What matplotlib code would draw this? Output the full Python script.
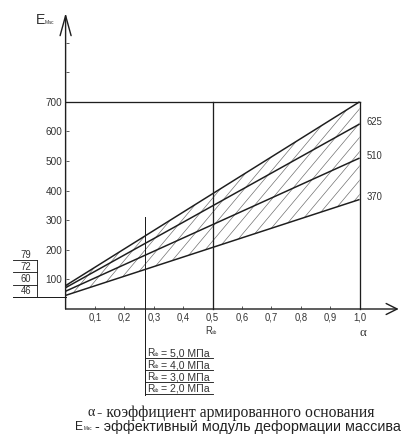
import matplotlib
matplotlib.use("Agg")
import matplotlib.pyplot as plt
from matplotlib.patches import FancyArrowPatch
import numpy as np

# ---------------- data ----------------
alpha = [0.0, 1.0]
E_start = [79, 72, 60, 46]          # E at alpha = 0
E_end = [700, 625, 510, 370]        # E at alpha = 1
end_labels = ["", "625", "510", "370"]
start_labels = ["79", "72", "60", "46"]
rsb_labels = ["5,0", "4,0", "3,0", "2,0"]
x_ticks = [0.1, 0.2, 0.3, 0.4, 0.5, 0.6, 0.7, 0.8, 0.9, 1.0]
x_ticklabels = ["0,1", "0,2", "0,3", "0,4", "0,5", "0,6", "0,7", "0,8", "0,9", "1,0"]
y_ticks = [100, 200, 300, 400, 500, 600, 700, 800, 900]
y_ticklabels = ["100", "200", "300", "400", "500", "600", "700", "", ""]
alpha_rsb = 0.27
E_rsb_top = 310
E_frame = 700
alpha_mid = 0.5

# ---------------- layout ----------------
W, H, DPI = 419, 447, 72
X0, Y0 = 65.6, 309.0     # pixel position of origin (from top-left)
SX, SY = 294.0, 0.296    # px per unit

fig = plt.figure(figsize=(W / DPI, H / DPI), dpi=DPI)
ax = fig.add_axes([0, 0, 1, 1])
ax.set_xlim(-X0 / SX, (W - X0) / SX)
ax.set_ylim(-(H - Y0) / SY, Y0 / SY)
ax.patch.set_visible(False)

SANS = "Liberation Sans"
SERIF = "Liberation Serif"
INK = "#1e1e1e"
TXT = "#333333"


def fx(px):
    return px / W


def fy(py):
    return 1 - py / H


# spines / ticks
for s in ["top", "right", "left", "bottom"]:
    ax.spines[s].set_visible(False)
ax.spines["left"].set_position(("data", 0))
ax.spines["bottom"].set_position(("data", 0))
ax.set_xticks(x_ticks)
ax.set_xticklabels(x_ticklabels, fontsize=9.5, family=SANS, color=TXT)
ax.set_yticks(y_ticks)
ax.set_yticklabels(y_ticklabels, fontsize=10, family=SANS, color=TXT)
ax.tick_params(axis="both", direction="in", length=3, width=0.8, color=TXT)
ax.tick_params(axis="x", pad=4)
ax.tick_params(axis="y", pad=3)

# axis arrows
ax.add_patch(FancyArrowPatch((0, 0), (0, 1000), arrowstyle="->,head_length=20,head_width=5.5",
                             mutation_scale=1, lw=1.4, color=INK, shrinkA=0, shrinkB=0))
ax.add_patch(FancyArrowPatch((0, 0), (1.133, 0), arrowstyle="->,head_length=11,head_width=5.5",
                             mutation_scale=1, lw=1.4, color=INK, shrinkA=0, shrinkB=0))

# hatched band (clipped diagonal hatch lines)
a = np.array(alpha)
lower = np.array([E_start[-1], E_end[-1]])
upper = np.array([E_start[0], E_end[0]])
band = ax.fill_between(a, lower, upper, facecolor="none", linewidth=0)
hatch_px = 12.0                       # horizontal spacing of hatch lines in pixels
hatch_slope_px = np.tan(np.radians(50))
k = hatch_slope_px * SX / SY          # data slope of hatch lines
for a0 in np.arange(-1.0, 1.0, hatch_px / SX):
    hl, = ax.plot([a0, a0 + 1.2], [0, k * 1.2], color="#6a6a6a", lw=0.65)
    hl.set_clip_path(band.get_paths()[0], ax.transData)

# main lines
for s, e in zip(E_start, E_end):
    ax.plot(alpha, [s, e], color=INK, lw=1.5, solid_capstyle="butt")

# frame lines
ax.plot([0, 1], [E_frame, E_frame], color=INK, lw=1.3)
ax.plot([1, 1], [0, E_frame], color=INK, lw=1.3)
ax.plot([alpha_mid, alpha_mid], [0, E_frame], color=INK, lw=1.3)

# end labels
for lab, e in zip(end_labels, E_end):
    if lab:
        ax.annotate(lab, (1.0, e), xytext=(7, 2), textcoords="offset points",
                    ha="left", va="center", fontsize=9.5, family=SANS, color=TXT)

# Rsb vertical and table
ax.plot([alpha_rsb, alpha_rsb], [E_rsb_top, -290], color=INK, lw=1.0)
row_y = [358, 370, 382, 393.5]
for lab, py in zip(rsb_labels, row_y):
    fig.add_artist(plt.Line2D([fx(145), fx(213)], [fy(py), fy(py)], color=INK, lw=0.9))
    fig.text(fx(147), fy(py - 2), "R", ha="left", va="baseline", fontsize=10, family=SANS, color=TXT)
    fig.text(fx(153.5), fy(py - 1.5), "sb", ha="left", va="baseline", fontsize=5, family=SANS, color=TXT)
    fig.text(fx(161), fy(py - 2), "= " + lab + " МПа", ha="left", va="baseline",
             fontsize=10.5, family=SANS, color=TXT)

# left table of start values
tab_y = [260, 272.3, 284.7]
for py in tab_y:
    fig.add_artist(plt.Line2D([fx(13), fx(37)], [fy(py), fy(py)], color=INK, lw=0.9))
fig.add_artist(plt.Line2D([fx(13), fx(X0)], [fy(296.5), fy(296.5)], color=INK, lw=1.0))
fig.add_artist(plt.Line2D([fx(37), fx(37)], [fy(260), fy(296.5)], color=INK, lw=0.9))
for lab, py in zip(start_labels, [255, 267, 279, 291.5]):
    fig.text(fx(26), fy(py), lab, ha="center", va="center", fontsize=9.5, family=SANS, color=TXT)

# axis labels
fig.text(fx(36), fy(20), "E", ha="left", va="center", fontsize=14, family=SANS, color=TXT)
fig.text(fx(45), fy(23), "Мас", ha="left", va="center", fontsize=5, family=SANS, color=TXT)
fig.text(fx(205), fy(331), "R", ha="left", va="center", fontsize=9.5, family=SANS, color=TXT)
fig.text(fx(212), fy(333), "sb", ha="left", va="center", fontsize=5, family=SANS, color=TXT)
fig.text(fx(360), fy(333), "α", ha="left", va="center", fontsize=13, family=SERIF, color=TXT)

# legend text at bottom
fig.text(fx(88), fy(413), "α", ha="left", va="center", fontsize=14, family=SERIF, color="#222222")
fig.text(fx(97), fy(413), "- коэффициент армированного основания", ha="left", va="center",
         fontsize=15.8, family=SERIF, color="#222222")
fig.text(fx(75), fy(427), "E", ha="left", va="center", fontsize=12, family=SANS, color="#222222")
fig.text(fx(84), fy(429), "Мас", ha="left", va="center", fontsize=4.5, family=SANS, color="#222222")
fig.text(fx(95), fy(427), "- эффективный модуль деформации массива", ha="left", va="center",
         fontsize=14.4, family=SANS, color="#222222")

fig.savefig("out.png", dpi=DPI)
